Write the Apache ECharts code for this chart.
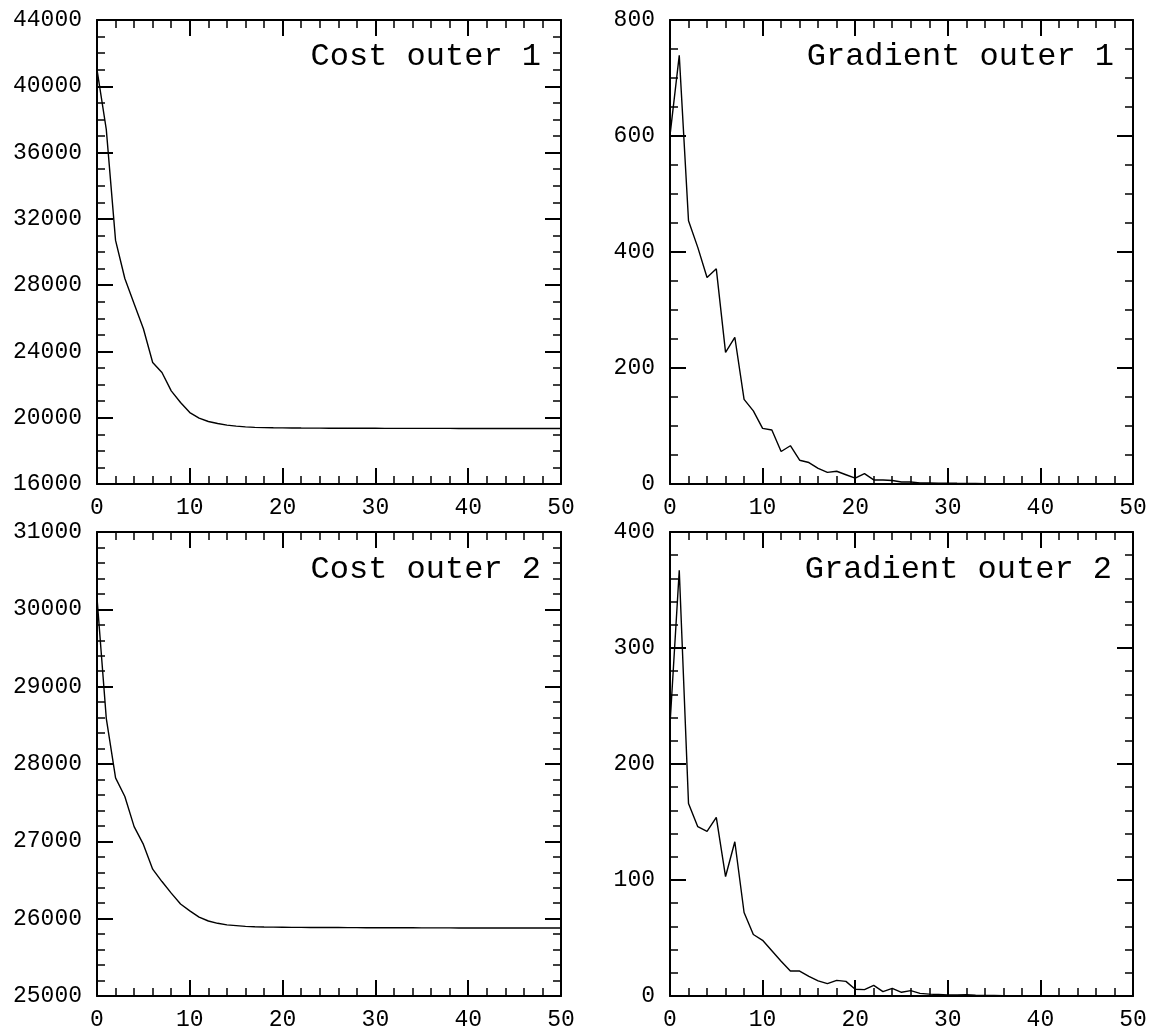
<!DOCTYPE html>
<html>
<head>
<meta charset="utf-8">
<script src="https://cdn.jsdelivr.net/npm/echarts@6/dist/echarts.min.js"></script>
<style>
html,body{margin:0;padding:0;background:#fff;}
#chart{width:1154px;height:1031px;}
</style>
</head>
<body>
<div id="chart"></div>
<script>
// ---- data ----
const iterations = [0,1,2,3,4,5,6,7,8,9,10,11,12,13,14,15,16,17,18,19,20,21,22,23,24,25,26,27,28,29,30,31,32,33,34,35,36,37,38,39,40,41,42,43,44,45,46,47,48,49,50];

const costOuter1 = [41000,37400,30700,28400,26880,25370,23330,22730,21620,20920,20310,19970,19770,19650,19550,19490,19450,19420,19400,19390,19385,19380,19376,19373,19370,19368,19366,19364,19362,19361,19360,19359,19358,19357,19356,19355,19355,19354,19354,19353,19353,19352,19352,19352,19351,19351,19351,19350,19350,19350,19350];

const gradientOuter1 = [601,739,454,408,356,371,227,253,146,126,96,93,56,66,41,37,27,20,22,16,10,18,7,7,6,3.5,3.5,2,2,1.5,1.5,1.2,1,0.8,0.6,0.5,0.4,0.3,0.3,0.2,0.2,0.2,0.1,0.1,0.1,0.1,0.1,0.1,0.1,0.1,0.1];

const costOuter2 = [30150,28590,27820,27580,27190,26960,26640,26480,26330,26190,26100,26020,25970,25940,25920,25910,25900,25895,25892,25890,25889,25888,25887,25886,25886,25885,25885,25884,25884,25883,25883,25883,25882,25882,25882,25881,25881,25881,25881,25880,25880,25880,25880,25880,25880,25880,25880,25880,25880,25880,25880];

const gradientOuter2 = [234,367,166,146,142,154,103,133,72,53,48,39,30,21.5,21.5,17,13,10.6,13.5,12.6,5.8,5.5,9.2,3.8,6.6,3.2,4.6,2.3,1.6,1.3,1,0.8,1.2,0.6,0.5,0.4,0.3,0.3,0.2,0.2,0.2,0.1,0.1,0.1,0.1,0.1,0.1,0.1,0.1,0.1,0.1];

const panelTitles = ['Cost outer 1','Gradient outer 1','Cost outer 2','Gradient outer 2'];
const yRanges = [
  {min:16000,max:44000,interval:4000,minorSplit:4},
  {min:0,max:800,interval:200,minorSplit:4},
  {min:25000,max:31000,interval:1000,minorSplit:5},
  {min:0,max:400,interval:100,minorSplit:5}
];
const xRange = {min:0,max:50,interval:10,minorSplit:5};
const seriesData = [costOuter1, gradientOuter1, costOuter2, gradientOuter2];

// ---- layout ----
const FONT = 'Liberation Mono';
const grids = [
  {left:97, top:20, width:464, height:464},
  {left:670, top:20, width:463, height:464},
  {left:97, top:532, width:464, height:464},
  {left:670, top:532, width:463, height:464}
].map(g => Object.assign({containLabel:false, outerBoundsMode:'none'}, g));
const titlePos = [
  {right:613, top:41},
  {right:40, top:41},
  {right:613, top:554},
  {right:42, top:554}
];

const tickStyle = {inside:true, length:16, lineStyle:{color:'#000', width:2}};
const minorStyle = (n)=>({show:true, splitNumber:n, length:8, lineStyle:{color:'#000', width:1.5}});
const lineStyle = {show:true, onZero:false, lineStyle:{color:'#000', width:2}};
const labelStyle = {color:'#000', fontFamily:FONT, fontSize:23, formatter:(v)=>String(v)};

const xAxes = [], yAxes = [], series = [], titles = [];
for (let i = 0; i < 4; i++) {
  ['bottom','top'].forEach((pos) => {
    xAxes.push({
      type:'value', gridIndex:i, position:pos,
      min:xRange.min, max:xRange.max, interval:xRange.interval,
      axisLine:lineStyle, axisTick:tickStyle, minorTick:minorStyle(xRange.minorSplit),
      splitLine:{show:false}, minorSplitLine:{show:false},
      axisLabel: pos==='bottom' ? Object.assign({margin:12, showMinLabel:true, showMaxLabel:true, hideOverlap:false}, labelStyle) : {show:false}
    });
  });
  const yr = yRanges[i];
  ['left','right'].forEach((pos) => {
    yAxes.push({
      type:'value', gridIndex:i, position:pos,
      min:yr.min, max:yr.max, interval:yr.interval,
      axisLine:lineStyle, axisTick:tickStyle, minorTick:minorStyle(yr.minorSplit),
      splitLine:{show:false}, minorSplitLine:{show:false},
      axisLabel: pos==='left' ? Object.assign({margin:15, showMinLabel:true, showMaxLabel:true, hideOverlap:false}, labelStyle) : {show:false}
    });
  });
  series.push({
    type:'line', xAxisIndex:2*i, yAxisIndex:2*i,
    data: iterations.map((x, k) => [x, seriesData[i][k]]),
    showSymbol:false, symbol:'none', smooth:false, silent:true,
    lineStyle:{color:'#000', width:1.4}
  });
  titles.push(Object.assign({
    text: panelTitles[i], padding:0,
    textStyle:{color:'#000', fontFamily:FONT, fontSize:32, fontWeight:'normal'}
  }, titlePos[i]));
}

const chart = echarts.init(document.getElementById('chart'), null, {renderer:'canvas'});
chart.setOption({
  backgroundColor:'#fff',
  animation:false,
  title: titles,
  grid: grids,
  xAxis: xAxes,
  yAxis: yAxes,
  series: series
});
</script>
</body>
</html>
